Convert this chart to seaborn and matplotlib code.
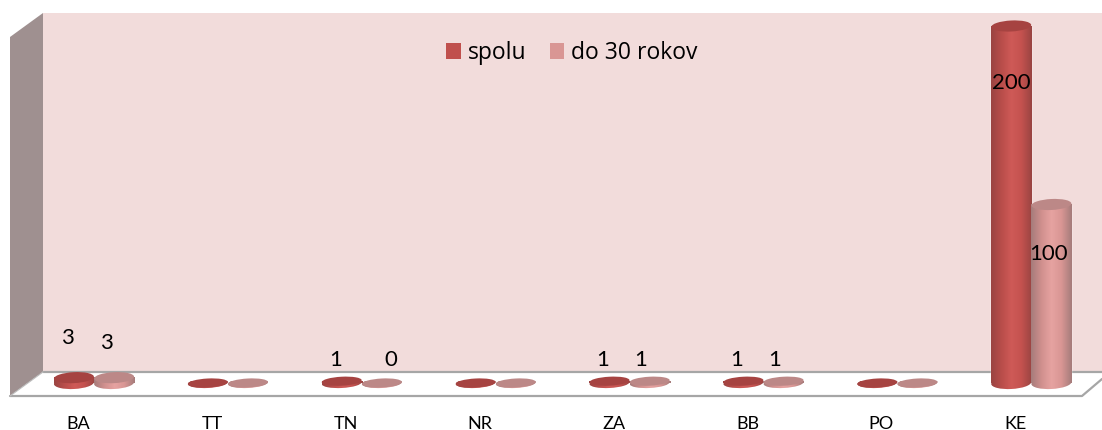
import numpy as np
import pandas as pd
import seaborn as sns
import matplotlib.pyplot as plt
from matplotlib.colors import LinearSegmentedColormap
from matplotlib.patches import Ellipse, Polygon
from matplotlib.transforms import Affine2D, ScaledTranslation

regions = ['BA', 'TT', 'TN', 'NR', 'ZA', 'BB', 'PO', 'KE']
spolu = [3, 0, 1, 0, 1, 1, 0, 200]
do_30 = [3, 0, 0, 0, 1, 1, 0, 100]
spolu_text = ['3', '', '1', '', '1', '1', '', '200']
do_30_text = ['3', '', '0', '', '1', '1', '', '100']
series_names = ['spolu', 'do 30 rokov']

# label offsets from the bar top, pixels
spolu_dx = [-6, 0, -6, 0, -7, -7, 0, 0]
spolu_dy = [40, 0, 21, 0, 21, 21, 0, -57]
do_30_dx = [-8, 0, 9, 0, -9, -9, 0, -3]
do_30_dy = [35, 0, 23, 0, 21, 21, 0, -50]

W, H = 1102, 430
BASE_Y = 383
PX_PER_UNIT = 1.785
AX_BOTTOM = 405

df = pd.DataFrame({
    'region': regions * 2,
    'value': spolu + do_30,
    'series': [series_names[0]] * 8 + [series_names[1]] * 8,
})

sns.set_style('white')
plt.rcParams['font.family'] = ['Lato', 'DejaVu Sans']
plt.rcParams['text.color'] = 'black'
plt.rcParams['xtick.color'] = 'black'

fig = plt.figure(figsize=(W / 100, H / 100), dpi=100)
ax = fig.add_axes([0, 1 - AX_BOTTOM / H, 1, AX_BOTTOM / H])
ax.patch.set_alpha(0)


def px(points):
    return [(x / W, 1 - y / H) for x, y in points]


def deco(points, **kw):
    fig.add_artist(Polygon(px(points), closed=True, transform=fig.transFigure, **kw))


# back wall, side wall, floor
deco([(43, 13), (1102, 13), (1102, 372), (43, 372)], fc='#F2DCDB', ec='none', zorder=-5)
deco([(10, 37), (43, 13), (43, 372), (10, 396)], fc='#9F9090', ec='none', zorder=-5)
deco([(10, 396), (43, 372), (1102, 372), (1102, 379), (1082, 396)], fc='white', ec='none', zorder=-4)
fig.add_artist(plt.Line2D([43 / W, 1], [1 - 372 / H] * 2, color='#A6A6A6', lw=1.6, zorder=-3))
xs, ys = zip(*px([(10, 396), (1082, 396), (1102, 379)]))
fig.add_artist(plt.Line2D(xs, ys, color='#A6A6A6', lw=1.6, zorder=-3))
xs, ys = zip(*px([(10, 396), (43, 372)]))
fig.add_artist(plt.Line2D(xs, ys, color='#BDBDBD', lw=0.8, zorder=-3))

sns.barplot(data=df, x='region', y='value', hue='series', order=regions, hue_order=series_names,
            palette=['#C0504D', '#D99694'], width=0.6, gap=0, saturation=1, ax=ax)

ax.set_xlim(-94 / 133.9, (W - 94) / 133.9)
ax.set_ylim(-(AX_BOTTOM - BASE_Y) / PX_PER_UNIT, BASE_Y / PX_PER_UNIT)
ax.set_autoscale_on(False)

shades = [
    (LinearSegmentedColormap.from_list('s', ['#9A4442', '#B84D4A', '#CF5A57', '#C4524F', '#9A4442']), '#A64341'),
    (LinearSegmentedColormap.from_list('d', ['#A67C7B', '#D08F8D', '#E6A3A1', '#D99694', '#A67C7B']), '#BC8887'),
]
grad = np.linspace(0, 1, 64).reshape(1, -1)


def disc(x, y, w, h, **kw):
    cx, cy = ax.transData.transform((x, y))
    e = Ellipse((0, 0), w, h, transform=Affine2D().rotate_deg(3).translate(cx, cy), **kw)
    ax.add_patch(e)
    return e


texts = [(spolu_text, spolu_dx, spolu_dy), (do_30_text, do_30_dx, do_30_dy)]
for k, cont in enumerate(ax.containers):
    cmap, top_color = shades[k]
    lab, dxs, dys = texts[k]
    for i, bar in enumerate(cont):
        x0, bw, h = bar.get_x(), bar.get_width(), bar.get_height()
        mid = x0 + bw / 2
        disc_h = 12 if h >= 3 else 10

        # round foot of the cylinder
        foot = disc(mid, 0, 40, disc_h, fc='none', ec='none', zorder=3)
        im = ax.imshow(grad, cmap=cmap, extent=(x0, x0 + bw, -10, h + 1), aspect='auto', zorder=3)
        im.set_clip_path(foot)

        # body
        if h > 0:
            ax.imshow(grad, cmap=cmap, extent=(x0, x0 + bw, 0, h), aspect='auto', zorder=3.1)
        disc(mid, h, 40, disc_h - 1, fc=top_color, ec='none', zorder=3.2)

        if lab[i]:
            ax.annotate(lab[i], (mid, h), xytext=(dxs[i], dys[i]), textcoords='offset pixels',
                        ha='center', va='center', fontsize=16, color='black', zorder=5)

ax.set_xlabel('')
ax.set_ylabel('')
ax.set_yticks([])
ax.set_xticks(range(len(regions)), regions)
ax.tick_params(axis='x', length=0, pad=8, labelsize=13)
for t in ax.get_xticklabels():
    t.set_transform(t.get_transform() + ScaledTranslation(-16 / 100, 0, fig.dpi_scale_trans))
sns.despine(ax=ax, left=True, bottom=True)

handles, labels = ax.get_legend_handles_labels()
for h in handles:
    h.set_edgecolor('none')
ax.legend(handles, labels, ncol=2, frameon=False, loc='center', bbox_to_anchor=(572 / W, 1 - 53 / AX_BOTTOM),
          prop={'family': 'Open Sans', 'size': 16.5}, handlelength=0.65, handleheight=0.65,
          handletextpad=0.3, columnspacing=1.0, labelcolor='black')

fig.savefig('out.png', dpi=100)
